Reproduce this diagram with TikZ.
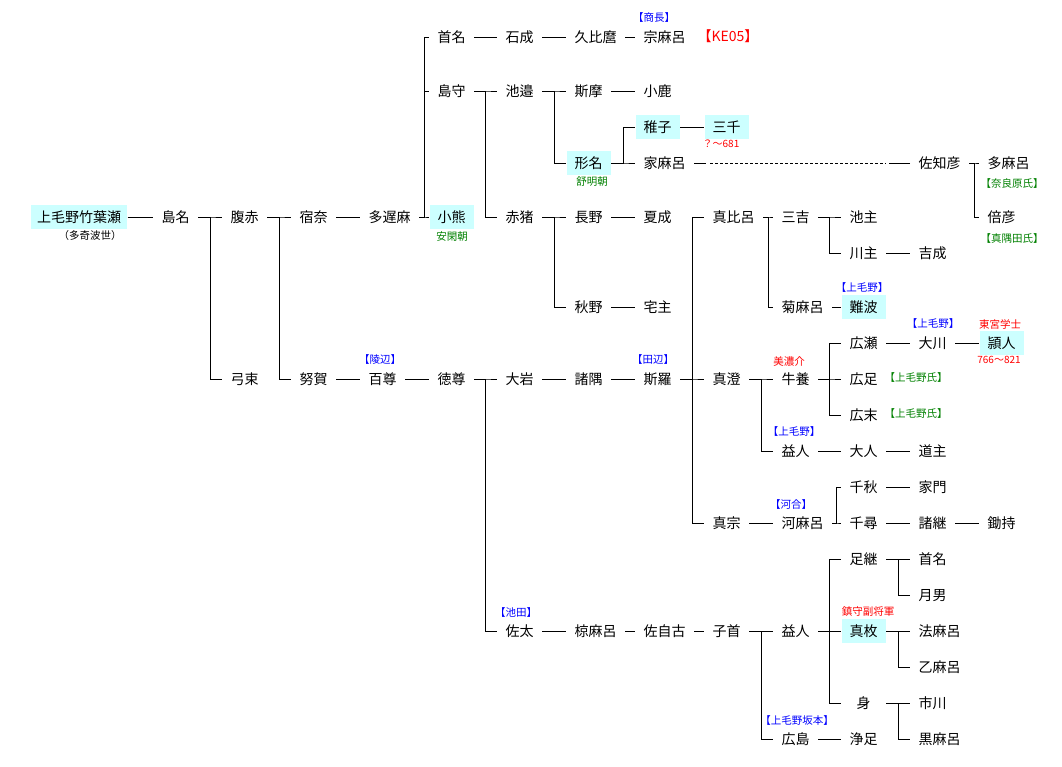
\documentclass[tikz,border=0pt]{standalone}
\usepackage{fontspec}
\setmainfont{Noto Sans CJK JP}
\usepackage{tikz}
\usetikzlibrary{calc}
\definecolor{hilite}{RGB}{204,255,255}
\definecolor{leafgreen}{RGB}{0,128,0}
% parent -> children, fork at half way
\newcommand\branch[2]{\foreach \kid in {#2}{\draw (#1.east) -- ($(#1.east)!.5!(#1.east -| \kid.west)$) |- (\kid.west);}}
\begin{document}
\begin{tikzpicture}[x=1pt,y=-1pt,line width=1pt,
	nm/.style={anchor=west,inner xsep=8pt,inner ysep=5pt,text height=12.5pt,text depth=1.5pt,font=\fontsize{14}{16}\selectfont},
	hl/.style={nm,fill=hilite},
	tag/.style={inner sep=0pt,yshift=1pt,font=\fontsize{10.5}{12}\selectfont},
	tiny/.style={inner sep=0pt,yshift=1pt,red,font=\fontsize{10}{11}\selectfont}]
	\useasboundingbox (0,0) rectangle (1062,766);
	% names, row by row
	\node[nm] (shuna) at (429,37) {首名};
	\node[nm] (iwanari) at (497,37) {石成};
	\node[nm] (kubimaro) at (566,37) {久比麿};
	\node[nm] (munemaro) at (635,37) {宗麻呂};
	\node[nm] (shimamori) at (429,91) {島守};
	\node[nm] (ikenobe) at (497,91) {池邉};
	\node[nm] (shima) at (566,91) {斯摩};
	\node[nm] (kojika) at (635,91) {小鹿};
	\node[hl] (wakugo) at (635,127) {稚子};
	\node[hl] (michi) at (704,127) {三千};
	\node[hl] (katana) at (566,163) {形名};
	\node[nm] (iemaro) at (635,163) {家麻呂};
	\node[nm] (sachihiko) at (910,163) {佐知彦};
	\node[nm] (tamaro) at (979,163) {多麻呂};
	\node[hl,anchor=center,inner xsep=6pt] (takehase) at (79,217) {上毛野竹葉瀬};
	\node[nm] (shimana) at (153,217) {島名};
	\node[nm] (haraaka) at (222,217) {腹赤};
	\node[nm] (sukuna) at (291,217) {宿奈};
	\node[nm] (tajima) at (360,217) {多遅麻};
	\node[hl] (okuma) at (429,217) {小熊};
	\node[nm] (akai) at (497,217) {赤猪};
	\node[nm] (nagano) at (566,217) {長野};
	\node[nm] (natsunari) at (635,217) {夏成};
	\node[nm] (mahiro) at (704,217) {真比呂};
	\node[nm] (miyoshi) at (773,217) {三吉};
	\node[nm] (ikenushi) at (841,217) {池主};
	\node[nm] (masuhiko) at (979,217) {倍彦};
	\node[nm] (kawanushi) at (841,253) {川主};
	\node[nm] (yoshinari) at (910,253) {吉成};
	\node[nm] (akino) at (566,307) {秋野};
	\node[nm] (yakanushi) at (635,307) {宅主};
	\node[nm] (kikumaro) at (773,307) {菊麻呂};
	\node[hl] (naniwa) at (841,307) {難波};
	\node[nm] (hirose) at (841,343) {広瀬};
	\node[nm] (okawa) at (910,343) {大川};
	\node[hl] (kaibito) at (979,343) {頴人};
	\node[nm] (yuzuka) at (222,379) {弓束};
	\node[nm] (nuka) at (291,379) {努賀};
	\node[nm] (momotaka) at (360,379) {百尊};
	\node[nm] (tokotaka) at (429,379) {徳尊};
	\node[nm] (oiwa) at (497,379) {大岩};
	\node[nm] (morosumi) at (566,379) {諸隅};
	\node[nm] (shira) at (635,379) {斯羅};
	\node[nm] (masumi) at (704,379) {真澄};
	\node[nm] (ushikai) at (773,379) {牛養};
	\node[nm] (hiroashi) at (841,379) {広足};
	\node[nm] (hirosue) at (841,415) {広末};
	\node[nm] (masuhito) at (773,451) {益人};
	\node[nm] (ushi) at (841,451) {大人};
	\node[nm] (michinushi) at (910,451) {道主};
	\node[nm] (chiaki) at (841,487) {千秋};
	\node[nm] (iekado) at (910,487) {家門};
	\node[nm] (mamune) at (704,523) {真宗};
	\node[nm] (kawamaro) at (773,523) {河麻呂};
	\node[nm] (chihiro) at (841,523) {千尋};
	\node[nm] (morotsugu) at (910,523) {諸継};
	\node[nm] (sukimochi) at (979,523) {鋤持};
	\node[nm] (ashitsugu) at (841,559) {足継};
	\node[nm] (obitona) at (910,559) {首名};
	\node[nm] (tsukio) at (910,595) {月男};
	\node[nm] (sata) at (497,631) {佐太};
	\node[nm] (mukumaro) at (566,631) {椋麻呂};
	\node[nm] (sajiko) at (635,631) {佐自古};
	\node[nm] (kobito) at (704,631) {子首};
	\node[nm] (masuhito2) at (773,631) {益人};
	\node[hl] (mahira) at (841,631) {真枚};
	\node[nm] (norimaro) at (910,631) {法麻呂};
	\node[nm] (otomaro) at (910,667) {乙麻呂};
	\node[nm,minimum width=44pt] (mi) at (841,703) {身};
	\node[nm] (ichikawa) at (910,703) {市川};
	\node[nm] (hiroshima) at (773,739) {広島};
	\node[nm] (kiyotari) at (841,739) {浄足};
	\node[nm] (kuromaro) at (910,739) {黒麻呂};
	% notes
	\node[tag,blue] (t-akiosa) at (654,19) {【商長】};
	\node[inner sep=0pt,anchor=west,yshift=1pt,red,font=\fontsize{14}{16}\selectfont] (t-ke05) at (697,37) {【KE05】};
	\node[tiny] (t-michi) at (721,145) {？～681};
	\node[tag,leafgreen] (t-jomei) at (592,183) {舒明朝};
	\node[tag,leafgreen] (t-narahara) at (1012,185) {【奈良原氏】};
	\node[tag] (t-takiha) at (90,237) {（多奇波世）};
	\node[tag,leafgreen] (t-ankan) at (452,238) {安閑朝};
	\node[tag,leafgreen] (t-masuda) at (1012,240) {【真隅田氏】};
	\node[tag,blue] (t-naniwa) at (862,289) {【上毛野】};
	\node[tag,blue] (t-okawa) at (933,325) {【上毛野】};
	\node[tag,red] (t-togu) at (1000,325) {東宮学士};
	\node[tiny] (t-kaibito) at (999,361) {766～821};
	\node[tag,blue] (t-misasagi) at (380,361) {【陵辺】};
	\node[tag,blue] (t-tanabe) at (653,361) {【田辺】};
	\node[tag,red] (t-mino) at (789,362) {美濃介};
	\node[tag,leafgreen,anchor=west] (t-hiroashi) at (884,379) {【上毛野氏】};
	\node[tag,leafgreen,anchor=west] (t-hirosue) at (884,415) {【上毛野氏】};
	\node[tag,blue] (t-masuhito) at (794,433) {【上毛野】};
	\node[tag,blue] (t-kawai) at (791,505) {【河合】};
	\node[tag,blue] (t-ikeda) at (516,613) {【池田】};
	\node[tag,red] (t-chinju) at (868,613) {鎮守副将軍};
	\node[tag,blue] (t-sakamoto) at (797,721) {【上毛野坂本】};
	% one child
	\foreach \a/\b in {takehase/shimana,sukuna/tajima,shuna/iwanari,iwanari/kubimaro,kubimaro/munemaro,
		shima/kojika,wakugo/michi,nagano/natsunari,kawanushi/yoshinari,akino/yakanushi,kikumaro/naniwa,
		hirose/okawa,okawa/kaibito,nuka/momotaka,momotaka/tokotaka,oiwa/morosumi,morosumi/shira,
		masuhito/ushi,ushi/michinushi,chiaki/iekado,mamune/kawamaro,chihiro/morotsugu,morotsugu/sukimochi,
		sata/mukumaro,mukumaro/sajiko,sajiko/kobito,hiroshima/kiyotari}
		\draw (\a) -- (\b);
	% several children
	\branch{shimana}{haraaka,yuzuka}
	\branch{haraaka}{sukuna,nuka}
	\branch{tajima}{shuna,shimamori,okuma}
	\branch{shimamori}{ikenobe,akai}
	\branch{ikenobe}{shima,katana}
	\branch{katana}{wakugo,iemaro}
	\branch{akai}{nagano,akino}
	\branch{tokotaka}{oiwa,sata}
	\branch{shira}{mahiro,masumi,mamune}
	\branch{mahiro}{miyoshi,kikumaro}
	\branch{miyoshi}{ikenushi,kawanushi}
	\branch{sachihiko}{tamaro,masuhiko}
	\branch{masumi}{ushikai,masuhito}
	\branch{ushikai}{hirose,hiroashi,hirosue}
	\branch{kawamaro}{chiaki,chihiro}
	\branch{kobito}{masuhito2,hiroshima}
	\branch{masuhito2}{ashitsugu,mahira,mi}
	\branch{ashitsugu}{obitona,tsukio}
	\branch{mahira}{norimaro,otomaro}
	\branch{mi}{ichikawa,kuromaro}
	% broken line of descent
	\draw (iemaro.east) -- ++(12,0) coordinate (dash-a);
	\draw (sachihiko.west) -- ++(-21,0) coordinate (dash-b);
	\draw[dash pattern=on 3pt off 2pt] ($(dash-a)+(4,0)$) -- ($(dash-b)+(-3,0)$);
\end{tikzpicture}
\end{document}
